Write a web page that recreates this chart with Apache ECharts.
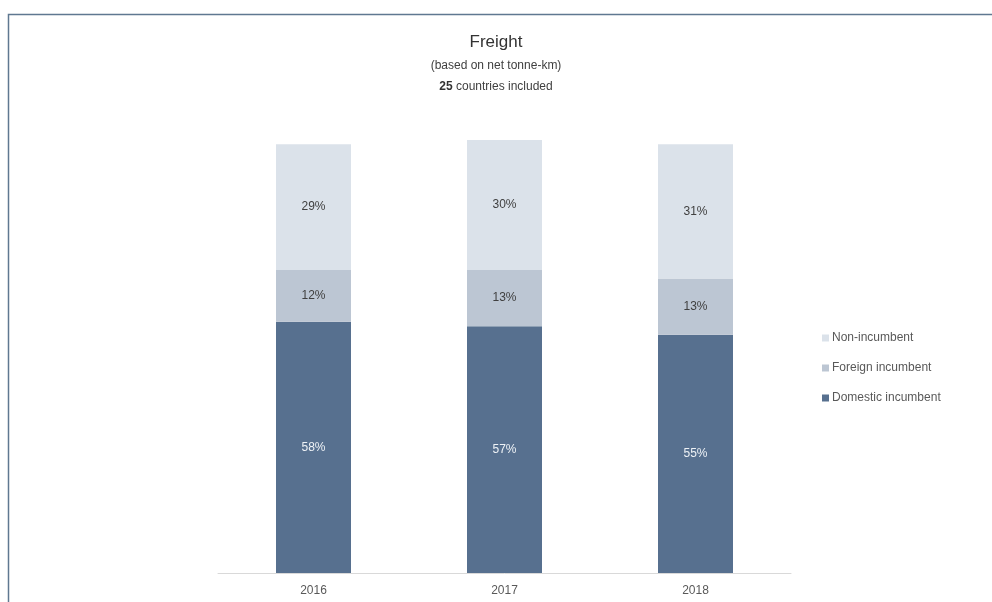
<!DOCTYPE html>
<html>
<head>
<meta charset="utf-8">
<title>Freight</title>
<script src="https://cdn.jsdelivr.net/npm/echarts@6/dist/echarts.min.js"></script>
<style>
  html, body { margin: 0; padding: 0; background: #ffffff; }
  #chart { width: 992px; height: 602px; }
</style>
</head>
<body>
<div id="chart"></div>
<script>
// Market share of freight rail (net tonne-km), by operator type
const years = ['2016', '2017', '2018'];
const domesticIncumbent = [58, 57, 55];
const foreignIncumbent = [12, 13, 13];
const nonIncumbent = [29, 30, 31];

const FONT = "'Liberation Sans', Arial, sans-serif";

const chart = echarts.init(document.getElementById('chart'));

function barSeries(name, data, color, labelColor) {
  return {
    name: name,
    type: 'bar',
    stack: 'share',
    data: data,
    barWidth: 75,
    itemStyle: { color: color },
    label: {
      show: true,
      position: 'inside',
      formatter: '{c}%',
      color: labelColor,
      fontFamily: FONT,
      fontSize: 12
    },
    emphasis: { disabled: true }
  };
}

chart.setOption({
  animation: false,
  backgroundColor: '#ffffff',
  title: [
    {
      text: 'Freight',
      left: 'center',
      top: 29,
      textStyle: { fontFamily: FONT, fontSize: 17, fontWeight: 'normal', color: '#333333' }
    },
    {
      text: '(based on net tonne-km)',
      left: 'center',
      top: 55,
      textStyle: { fontFamily: FONT, fontSize: 12, fontWeight: 'normal', color: '#404040' }
    },
    {
      text: '{b|25} countries included',
      left: 'center',
      top: 76,
      textStyle: {
        fontFamily: FONT, fontSize: 12, fontWeight: 'normal', color: '#404040',
        rich: { b: { fontFamily: FONT, fontSize: 12, fontWeight: 'bold', color: '#333333' } }
      }
    }
  ],
  legend: {
    orient: 'vertical',
    left: 817,
    top: 327,
    itemGap: 18,
    itemWidth: 7,
    itemHeight: 7,
    icon: 'rect',
    data: ['Non-incumbent', 'Foreign incumbent', 'Domestic incumbent'],
    textStyle: { fontFamily: FONT, fontSize: 12, color: '#595959', padding: [0, 0, 0, -2] }
  },
  grid: {
    left: 218,
    top: 140,
    width: 573,
    height: 433,
    containLabel: false
  },
  xAxis: {
    type: 'category',
    data: years,
    axisLine: { lineStyle: { color: '#d9d9d9', width: 1 } },
    axisTick: { show: false },
    axisLabel: { fontFamily: FONT, fontSize: 12, color: '#595959', margin: 12 }
  },
  yAxis: {
    type: 'value',
    min: 0,
    max: 100,
    interval: 20,
    show: false,
    splitLine: { show: false }
  },
  series: [
    barSeries('Domestic incumbent', domesticIncumbent, '#57708f', '#eef2f6'),
    barSeries('Foreign incumbent', foreignIncumbent, '#bcc6d3', '#404040'),
    barSeries('Non-incumbent', nonIncumbent, '#dbe2ea', '#404040')
  ],
  graphic: [
    {
      type: 'rect',
      silent: true,
      shape: { x: 8.5, y: 14.5, width: 1000, height: 700 },
      style: { fill: null, stroke: '#5f7891', lineWidth: 1.5 }
    }
  ]
});
</script>
</body>
</html>
